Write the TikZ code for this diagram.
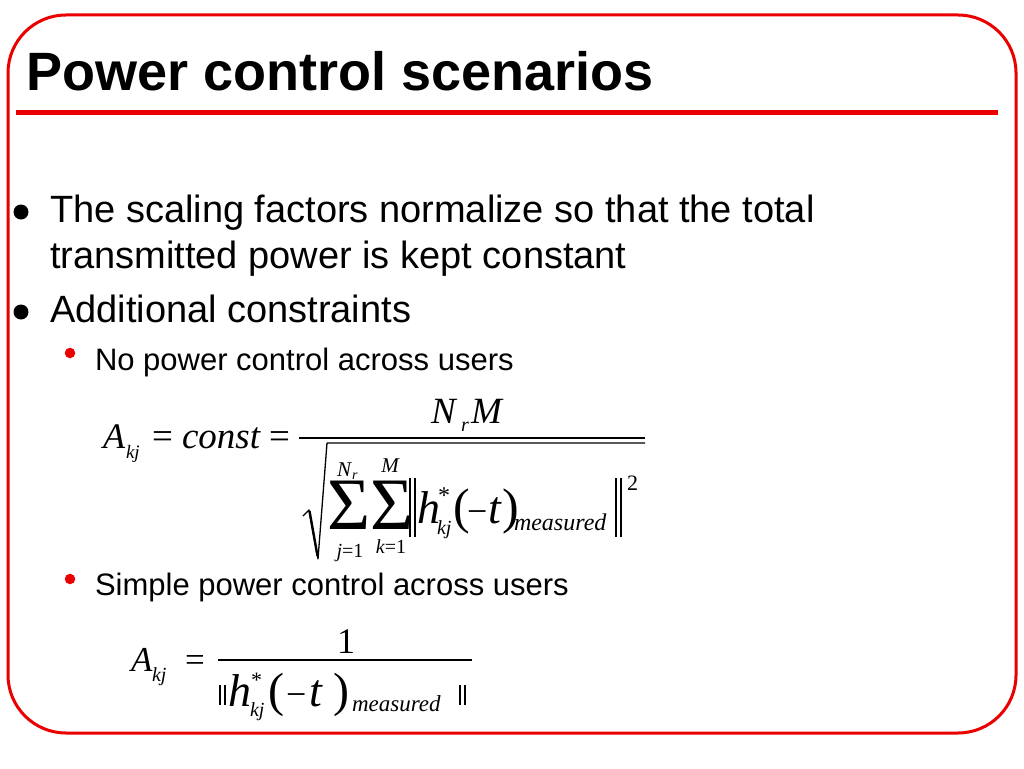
\documentclass[tikz,border=0pt]{standalone}
\usepackage{fontspec}
\setmainfont{Liberation Sans}
\newfontfamily\tnr{Liberation Serif}
\definecolor{slidered}{RGB}{235,0,0}
\newcommand\setfs[1]{\fontsize{#1}{#1}\selectfont}
\begin{document}
\begin{tikzpicture}[x=1pt,y=-1pt,
  tx/.style={inner sep=0pt,outer sep=0pt,anchor=base west},
  tc/.style={inner sep=0pt,outer sep=0pt,anchor=base},
  bdot/.style={circle,fill=black,inner sep=0pt,minimum size=15pt},
  rdot/.style={circle,fill=slidered,inner sep=0pt,minimum size=10.5pt},
  mi/.style={tx,font={\tnr\itshape\setfs{#1}}},
  mu/.style={tx,font={\tnr\setfs{#1}}},
  mic/.style={tc,font={\tnr\itshape\setfs{#1}}},
  bar/.style={line width=1.4pt,black}]
\useasboundingbox (0,0) rectangle (1024,768);
\fill[white] (0,0) rectangle (1024,768);
% frame
\draw[slidered,line width=3pt,rounded corners=58pt] (8,15) rectangle (1016,733);
\draw[slidered,line width=5pt] (16,112) -- (998,112);
% title
\node[tx,font={\bfseries\setfs{54}}] (title) at (26,90) {Power control scenarios};
% bullets
\node[bdot] (d1) at (21,212) {};
\node[tx,font={\setfs{38}}] (l1) at (50,222) {The scaling factors normalize so that the total};
\node[tx,font={\setfs{38}}] (l2) at (50,268) {transmitted power is kept constant};
\node[bdot] (d2) at (21,312) {};
\node[tx,font={\setfs{38}}] (l3) at (50,322) {Additional constraints};
\node[rdot] (s1) at (70,353) {};
\node[tx,font={\setfs{31}}] (l4) at (95,370) {No power control across users};
\node[rdot] (s2) at (70,579) {};
\node[tx,font={\setfs{31}}] (l5) at (95,595) {Simple power control across users};
% formula 1
\node[mi=36] (fa) at (103,448) {A};
\node[mi=19] (fakj) at (126,458) {kj};
\node[mu=37] (feq1) at (152,448) {=};
\node[mi=37] (fconst) at (182,448) {const};
\node[mu=37] (feq2) at (269,448) {=};
\draw[bar] (299,438) -- (645,438);
\node[mi=37] (fN) at (431,423) {N};
\node[mi=20] (fr) at (461,431) {r};
\node[mi=37] (fM) at (471,423) {M};
\draw[line width=1.3pt,line join=round] (303,516) -- (309,510) -- (318,559) -- (327,443) -- (645,443);
\draw[line width=2.4pt] (309.5,511) -- (317.5,556);
\node[mu=74] (sig1) at (327,529) {Σ};
\node[mic=21] (n1) at (344,476) {N};
\node[mi=14] (n1r) at (352,479) {r};
\node[tc,font={\tnr\setfs{20}}] (lo1) at (350,557) {\textit{j}=1};
\node[mu=74] (sig2) at (370,529) {Σ};
\node[mic=21] (up2) at (390,472) {M};
\node[tc,font={\tnr\setfs{20}}] (lo2) at (391,553) {\textit{k}=1};
\draw[line width=1.1pt] (410,478) -- (410,537) (415,478) -- (415,537);
\node[mi=46] (fh) at (417,523) {h};
\node[mu=24] (fst) at (438,503) {*};
\node[mi=20] (fhkj) at (437,534) {kj};
\node[mu=50] (flp) at (453,523) {(};
\node[mu=36] (fmin) at (467,523) {−};
\node[mi=46] (ft) at (488,523) {t};
\node[mu=50] (frp) at (502,523) {)};
\node[mi=24] (fmeas) at (514,530) {measured};
\draw[line width=1.1pt] (616,478) -- (616,537) (621,478) -- (621,537);
\node[mu=22] (fsq) at (627,490) {2};
% formula 2
\node[mi=35] (ga) at (131,671) {A};
\node[mi=20] (gakj) at (152,681) {kj};
\node[mu=35] (geq) at (185,671) {=};
\draw[bar] (218,660) -- (472,660);
\node[tc,font={\tnr\setfs{36}}] (gone) at (346,653) {1};
\draw[line width=1.1pt] (220,685) -- (220,705) (225,685) -- (225,705);
\node[mi=46] (gh) at (228,706) {h};
\node[mu=22] (gst) at (251,687) {*};
\node[mi=20] (gkj) at (250,716) {kj};
\node[mu=48] (glp) at (268,706) {(};
\node[mu=36] (gmin) at (286,706) {−};
\node[mi=46] (gt) at (309,706) {t};
\node[mu=48] (grp) at (333,706) {)};
\node[mi=23] (gmeas) at (352,711) {measured};
\draw[line width=1.1pt] (460,685) -- (460,705) (465,685) -- (465,705);
\end{tikzpicture}
\end{document}
